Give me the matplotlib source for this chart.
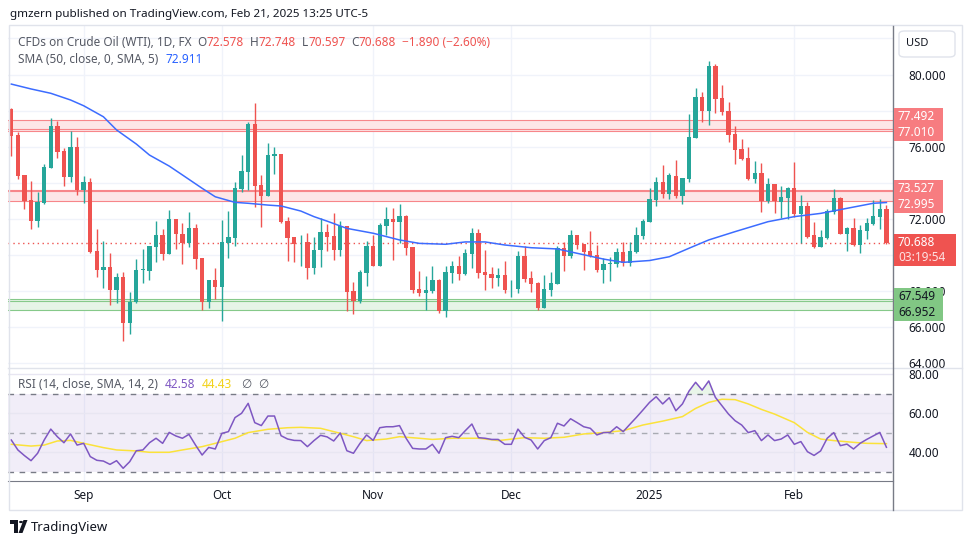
import matplotlib
matplotlib.use("Agg")
import matplotlib.pyplot as plt
from matplotlib.patches import Rectangle, FancyBboxPatch, Polygon, Circle
from matplotlib.lines import Line2D
import numpy as np
import pandas as pd

plt.rcParams['font.family'] = ['Noto Sans', 'DejaVu Sans']

# trading days shown (no bars on Dec 25 and Jan 1)
dates = pd.bdate_range('2024-08-16', '2025-02-21')
dates = dates[~dates.isin(pd.to_datetime(['2024-12-25', '2025-01-01']))]

opens = [78.09, 76.65, 74.44, 73.05, 71.91, 72.90, 74.84, 77.15, 75.76, 74.34,
         75.97, 73.61, 74.03, 70.21, 69.19, 69.34, 68.07, 68.79, 66.26, 67.40,
         69.17, 69.14, 70.47, 71.11, 70.08, 72.00, 71.17, 70.67, 71.50, 69.84,
         67.42, 68.62, 68.25, 70.65, 70.97, 73.66, 74.62, 77.26, 73.86, 73.27,
         75.50, 75.60, 71.89, 71.00, 70.70, 70.70, 69.30, 70.26, 71.26, 71.06,
         70.28, 71.59, 68.00, 67.48, 69.03, 70.50, 69.40, 71.63, 72.00, 71.85,
         72.17, 70.45, 68.11, 67.90, 68.01, 68.62, 66.92, 69.03, 69.40, 68.95,
         70.08, 71.22, 69.05, 68.95, 68.75, 68.90, 68.16, 68.14, 69.95, 68.73,
         68.46, 67.09, 68.09, 68.42, 70.39, 69.95, 71.11, 70.62, 70.23, 70.01,
         69.18, 69.51, 69.51, 70.17, 69.58, 70.17, 71.08, 71.83, 73.05, 74.05,
         73.40, 74.38, 73.27, 74.23, 76.50, 78.75, 77.98, 80.47, 78.70, 77.98,
         76.71, 75.88, 75.38, 74.23, 74.55, 73.01, 73.94, 72.96, 73.18, 73.72,
         72.29, 72.72, 71.11, 70.47, 70.95, 72.38, 73.16, 71.17, 71.50, 70.58,
         71.35, 71.74, 72.13, 72.578]
highs = [78.15, 76.80, 74.44, 74.10, 73.49, 75.04, 77.59, 77.44, 75.91, 76.85,
         76.54, 74.38, 74.25, 71.45, 70.78, 70.10, 68.99, 69.05, 67.96, 69.78,
         70.34, 70.50, 71.89, 71.45, 72.50, 72.00, 71.76, 72.39, 71.70, 69.84,
         68.62, 69.29, 71.94, 72.44, 74.07, 75.54, 77.35, 78.40, 74.42, 76.21,
         75.99, 75.60, 72.09, 71.00, 71.11, 71.20, 71.00, 72.04, 71.72, 72.33,
         71.89, 71.63, 68.51, 69.17, 70.78, 71.11, 71.80, 72.66, 72.61, 72.83,
         72.20, 70.45, 69.12, 68.84, 69.40, 68.68, 69.40, 69.67, 69.95, 70.34,
         71.50, 71.45, 70.28, 69.36, 69.29, 69.66, 68.62, 70.23, 70.50, 69.12,
         68.51, 68.90, 69.06, 70.49, 70.71, 71.39, 71.11, 70.62, 71.33, 70.56,
         69.82, 69.90, 70.39, 70.73, 70.73, 71.57, 71.98, 73.70, 74.31, 74.99,
         74.57, 75.27, 74.27, 77.81, 79.25, 79.03, 80.75, 80.58, 79.42, 78.48,
         77.13, 76.43, 76.00, 75.21, 75.10, 74.29, 73.94, 73.83, 73.77, 75.16,
         73.33, 72.96, 71.85, 71.39, 72.55, 73.66, 73.22, 71.54, 72.04, 71.67,
         72.07, 73.03, 73.11, 72.748]
lows = [75.50, 74.19, 72.57, 71.46, 71.58, 72.83, 74.84, 75.40, 73.84, 74.07,
        73.33, 72.90, 70.10, 68.81, 68.20, 67.24, 67.33, 65.26, 65.65, 67.33,
        68.48, 68.62, 69.60, 69.73, 70.08, 70.34, 69.53, 70.47, 69.23, 66.96,
        67.07, 67.57, 66.37, 69.86, 70.52, 73.48, 73.61, 72.68, 71.57, 73.27,
        74.51, 71.79, 69.69, 69.62, 69.40, 68.70, 68.97, 69.36, 70.21, 69.73,
        69.97, 66.90, 66.76, 67.33, 68.29, 69.40, 69.40, 71.11, 69.73, 70.67,
        69.99, 67.90, 67.73, 66.96, 67.88, 66.79, 66.57, 68.47, 68.62, 68.90,
        69.30, 68.75, 68.07, 68.20, 68.29, 67.92, 67.70, 67.92, 68.51, 67.96,
        66.96, 67.09, 67.75, 68.42, 69.14, 69.86, 70.34, 69.17, 69.90, 69.08,
        68.47, 68.57, 69.32, 69.42, 69.40, 70.10, 70.87, 71.83, 72.72, 73.16,
        73.09, 73.18, 72.83, 74.05, 76.50, 77.37, 77.22, 77.85, 77.76, 76.28,
        75.06, 75.27, 74.16, 74.01, 72.41, 72.87, 72.35, 72.04, 72.00, 72.09,
        70.69, 70.93, 70.41, 70.47, 70.89, 72.28, 71.17, 70.23, 70.50, 70.12,
        70.89, 71.69, 71.46, 70.597]
closes = [76.61, 74.40, 73.00, 71.91, 72.96, 74.86, 77.15, 75.73, 74.34, 75.97,
          73.61, 74.03, 70.19, 69.19, 69.32, 68.07, 68.79, 66.26, 67.40, 69.17,
          69.20, 70.50, 71.11, 70.08, 72.00, 71.15, 70.65, 71.48, 69.78, 67.42,
          68.62, 68.25, 70.73, 71.00, 73.71, 74.66, 77.26, 73.84, 73.27, 75.54,
          75.60, 71.85, 70.97, 70.63, 70.73, 69.30, 70.26, 71.26, 71.00, 70.28,
          71.59, 67.96, 67.48, 69.06, 70.50, 69.40, 71.67, 72.00, 71.85, 72.17,
          70.41, 68.07, 67.90, 68.07, 68.62, 66.92, 69.06, 69.40, 68.95, 70.12,
          71.22, 69.03, 68.90, 68.75, 68.90, 68.07, 68.18, 69.95, 68.70, 68.42,
          67.09, 68.12, 68.46, 70.39, 69.95, 71.11, 70.58, 70.17, 69.95, 69.18,
          69.51, 69.58, 70.17, 69.58, 70.23, 71.11, 71.89, 73.11, 74.05, 73.40,
          74.42, 73.27, 74.27, 76.54, 78.75, 77.99, 80.47, 78.66, 77.94, 76.67,
          75.82, 75.34, 74.23, 74.55, 73.01, 73.94, 72.99, 73.22, 73.72, 72.29,
          72.74, 71.02, 70.47, 71.00, 72.46, 73.16, 71.17, 71.50, 70.56, 71.39,
          71.78, 72.17, 72.55, 70.688]

# SMA 50 at these bars
sma_idx = [0, 3, 6, 9, 11, 14, 16, 19, 21, 24, 26, 29, 31, 34, 36, 39, 41, 44,
           46, 48, 51, 55, 59, 62, 66, 69, 72, 75, 79, 83, 86, 90, 93, 97, 100,
           103, 106, 110, 115, 119, 123, 127, 131, 133]
sma_vals = [79.47, 79.20, 78.96, 78.59, 78.27, 77.66, 76.93, 76.15, 75.54, 74.93,
            74.44, 73.70, 73.23, 72.92, 72.87, 72.77, 72.72, 72.44, 72.13, 71.88,
            71.48, 71.21, 70.84, 70.65, 70.60, 70.73, 70.73, 70.56, 70.41, 70.34,
            70.10, 69.78, 69.60, 69.70, 69.91, 70.38, 70.84, 71.30, 71.85, 72.13,
            72.31, 72.59, 72.87, 72.911]

rsi = [46.3, 41.2, 38.3, 35.7, 39.5, 46.3, 51.9, 48.0, 44.9, 49.4,
       43.7, 44.6, 37.8, 35.9, 35.5, 33.8, 35.7, 31.8, 35.2, 40.8,
       41.2, 44.9, 47.2, 44.6, 50.2, 48.4, 47.2, 49.2, 43.7, 38.6,
       42.5, 41.7, 49.7, 50.6, 57.8, 60.0, 65.1, 55.2, 53.7, 58.6,
       58.6, 48.5, 46.8, 46.1, 46.0, 42.9, 46.0, 48.7, 47.9, 45.8,
       49.9, 40.8, 39.5, 44.6, 48.9, 46.1, 52.6, 53.1, 53.1, 53.7,
       47.2, 42.0, 41.7, 41.7, 44.1, 39.5, 47.5, 48.2, 47.5, 51.1,
       54.5, 47.5, 47.2, 46.6, 46.6, 44.1, 44.1, 51.9, 47.7, 46.3,
       41.7, 46.0, 47.5, 54.9, 53.5, 57.2, 55.2, 53.1, 52.3, 48.9,
       50.1, 50.2, 53.1, 50.6, 54.3, 57.9, 61.7, 65.6, 68.5, 64.8,
       68.0, 61.3, 64.8, 71.4, 75.9, 71.9, 76.6, 68.2, 63.9, 59.6,
       56.2, 54.0, 50.1, 51.1, 46.0, 48.9, 46.0, 46.8, 48.9, 44.1,
       45.5, 40.3, 38.4, 40.7, 47.2, 50.1, 43.4, 44.2, 41.7, 44.6,
       46.6, 48.4, 50.2, 42.58]

rsi_ma_idx = [0, 3, 5, 7, 9, 11, 14, 16, 19, 21, 24, 26, 29, 31, 34, 36, 39, 42,
              44, 47, 49, 52, 54, 57, 59, 62, 64, 67, 71, 74, 78, 81, 84, 87, 90,
              93, 96, 99, 102, 104, 106, 108, 110, 112, 114, 116, 119, 121, 123,
              125, 128, 130, 133]
rsi_ma_vals = [44.1, 43.2, 43.7, 45.8, 46.1, 44.6, 42.4, 41.2, 40.7, 40.0, 40.0,
               41.2, 42.9, 44.6, 47.2, 50.1, 51.8, 52.6, 52.8, 52.3, 50.6, 48.0,
               46.0, 46.8, 48.0, 47.2, 46.6, 47.2, 47.2, 46.0, 47.5, 47.2, 47.7,
               49.4, 50.1, 51.1, 54.0, 56.0, 58.3, 62.5, 65.6, 67.2, 67.0, 64.8,
               62.0, 59.6, 55.2, 50.2, 46.8, 46.0, 45.1, 44.6, 44.43]

# horizontal zones: (low, high, extra line, colour)
zones = [(76.89, 77.492, 77.010, 'red'),
         (72.995, 73.63, 73.527, 'red'),
         (66.952, 67.58, 67.45, 'green')]
tags = [((77.492, 77.010), '#f77c80', 'white'),
        ((73.527, 72.995), '#f77c80', 'white'),
        ((67.549, 66.952), '#81c784', '#131722')]
price_ticks = [64, 66, 68, 72, 76, 80]   # 70, 74, 78 sit under the tags

UP, DN = '#26a69a', '#ef5350'
GRID = '#f0f3fa'
TXT = '#131722'
W, H = 970, 545

fig = plt.figure(figsize=(W / 100, H / 100), dpi=100)
fig.patch.set_facecolor('white')


def rect(x0, y0, x1, y1):
    return [x0 / W, 1 - y1 / H, (x1 - x0) / W, (y1 - y0) / H]


def fx(x):
    return x / W


def fy(y):
    return 1 - y / H


ax = fig.add_axes(rect(8, 26, 893, 368))
axr = fig.add_axes(rect(8, 368, 893, 481), sharex=ax)

x = np.arange(len(dates))
o, h, l, c = (np.array(a) for a in (opens, highs, lows, closes))
col = np.where(c >= o, UP, DN)

# month starts for ticks / grid
month_pos, month_lab = [], []
for i in range(1, len(dates)):
    if dates[i].month != dates[i - 1].month:
        month_pos.append(i)
        month_lab.append('2025' if dates[i].month == 1 else dates[i].strftime('%b'))

for a in (ax, axr):
    for p in month_pos:
        a.axvline(p, color=GRID, lw=1, zorder=0)
for v in range(64, 83, 2):
    ax.axhline(v, color=GRID, lw=1, zorder=0)

# zones
for lo, hi, mid, kind in zones:
    edge = '#f7868a' if kind == 'red' else '#86c98a'
    face = '#fde6e7' if kind == 'red' else '#e6f4e7'
    ax.axhspan(lo, hi, color=face, zorder=1, lw=0)
    for v in (lo, hi, mid):
        ax.axhline(v, color=edge, lw=0.8, zorder=1.5)

# candles
ax.vlines(x, l, h, colors=col, lw=1, zorder=3)
body_lo = np.minimum(o, c)
body_h = np.maximum(np.abs(c - o), 0.04)
ax.bar(x, body_h, bottom=body_lo, width=0.66, color=col, lw=0, zorder=4)

ax.plot(sma_idx, sma_vals, color='#3c6cff', lw=1.1, zorder=5)
ax.axhline(closes[-1], color=DN, lw=1, ls=(0, (1, 2.5)), zorder=2)

ax.set_xlim(-0.5, 134.0)
ax.set_ylim(63.749, 82.686)
ax.yaxis.tick_right()
ax.set_yticks(price_ticks)
ax.set_yticklabels([f'{v:.3f}' for v in price_ticks])
ax.tick_params(axis='y', length=0, pad=11, labelsize=8.5, labelcolor=TXT)
ax.tick_params(axis='x', length=0, labelbottom=False)

# RSI panel
axr.fill_between([-0.5, 134.0], 30, 70, color='#7e57c2', alpha=0.1, lw=0, zorder=0)
for v in (40, 60, 80):
    axr.axhline(v, color='#e8e6f2', lw=1, zorder=0.5)
axr.axhline(70, color='#787b86', lw=1, ls=(0, (4, 4)), zorder=1)
axr.axhline(30, color='#787b86', lw=1, ls=(0, (4, 4)), zorder=1)
axr.axhline(50, color='#a9abb3', lw=1, ls=(0, (4, 4)), zorder=1)
rsi_a = np.array(rsi)
axr.fill_between(x, 70, rsi_a, where=rsi_a > 70, interpolate=True,
                 color='#4caf50', alpha=0.12, lw=0)
axr.plot(rsi_ma_idx, rsi_ma_vals, color='#fbe23a', lw=1.1, zorder=3)
axr.plot(x, rsi, color='#7e57c2', lw=1.1, zorder=4)
axr.set_ylim(25.28, 83.23)
axr.yaxis.tick_right()
axr.set_yticks([40, 60, 80])
axr.set_yticklabels(['40.00', '60.00', '80.00'])
axr.tick_params(axis='y', length=0, pad=11, labelsize=8.5, labelcolor=TXT)
axr.set_xticks(month_pos)
axr.set_xticklabels(month_lab)
axr.tick_params(axis='x', length=0, pad=6, labelsize=8.5, labelcolor=TXT)
for t in axr.get_xticklabels():
    if t.get_text() == '2025':
        t.set_fontweight('bold')

for a in (ax, axr):
    for s in a.spines.values():
        s.set_visible(False)
axr.spines['bottom'].set_visible(True)
axr.spines['bottom'].set_color('#787b86')

# frame and separators
fig.add_artist(Rectangle((fx(9), fy(510)), (962 - 9) / W, (510 - 25) / H,
                         transform=fig.transFigure, fill=False, ec='#e0e3eb', lw=1))
fig.add_artist(Line2D([fx(8), fx(962)], [fy(368), fy(368)], color='#e0e3eb', lw=1))
fig.add_artist(Line2D([fx(893), fx(893)], [fy(26), fy(510)], color='#787b86', lw=1))

# price tags on the right axis
def data_to_py(v):
    return H - ax.transData.transform((0, v))[1]


for (v1, v2), fc, tc in tags:
    yc = (data_to_py(v1) + data_to_py(v2)) / 2
    fig.add_artist(Rectangle((fx(894), fy(yc + 16.5)), 49 / W, 33 / H,
                             transform=fig.transFigure, fc=fc, ec='none', zorder=5))
    fig.text(fx(898), fy(yc - 8), f'{v1:.3f}', color=tc, fontsize=8.5,
             fontweight='bold', va='center', zorder=6)
    fig.text(fx(898), fy(yc + 8), f'{v2:.3f}', color=tc, fontsize=8.5,
             fontweight='bold', va='center', zorder=6)

yc = data_to_py(closes[-1])
fig.add_artist(Rectangle((fx(894), fy(yc + 23)), 62 / W, 32 / H,
                         transform=fig.transFigure, fc=DN, ec='none', zorder=5))
fig.text(fx(898), fy(yc), f'{closes[-1]:.3f}', color='white', fontsize=8.5,
         fontweight='bold', va='center', zorder=6)
fig.text(fx(898), fy(yc + 15), '03:19:54', color='#fde2e3', fontsize=8.5,
         va='center', zorder=6)

fig.add_artist(FancyBboxPatch((fx(899), fy(57)), 56 / W, 26 / H,
                              boxstyle='round,pad=0,rounding_size=0.006',
                              transform=fig.transFigure, fc='white',
                              ec='#e0e3eb', lw=1, zorder=5))
fig.text(fx(906), fy(44), 'USD', color=TXT, fontsize=8, va='center', zorder=6)

# header and legends
renderer = fig.canvas.get_renderer()


def seq_text(x0, y, parts, size=8.5):
    for s, colr, gap in parts:
        t = fig.text(fx(x0), fy(y), s, color=colr, fontsize=size, va='center', zorder=6)
        x0 += t.get_window_extent(renderer=renderer).width + gap


fig.text(fx(10), fy(14), 'gmzern published on TradingView.com, Feb 21, 2025 13:25 UTC-5',
         color=TXT, fontsize=8.4, va='center')
GR = '#555964'
RED = '#ef5350'
seq_text(18, 42, [('CFDs on Crude Oil (WTI), 1D, FX', GR, 6),
                  ('O', GR, 0), ('72.578', RED, 6),
                  ('H', GR, 0), ('72.748', RED, 6),
                  ('L', GR, 0), ('70.597', RED, 6),
                  ('C', GR, 0), ('70.688', RED, 6),
                  ('\u22121.890 (\u22122.60%)', RED, 0)])
seq_text(18, 59, [('SMA (50, close, 0, SMA, 5)', GR, 7), ('72.911', '#2962ff', 0)])
seq_text(18, 385, [('RSI (14, close, SMA, 14, 2)', GR, 7), ('42.58', '#7e57c2', 6),
                   ('44.43', '#f2d21b', 9), ('\u2205', GR, 7), ('\u2205', GR, 0)])

# footer logo
fig.add_artist(Polygon([(fx(10), fy(520)), (fx(18), fy(520)), (fx(18), fy(533)),
                        (fx(14.5), fy(533)), (fx(14.5), fy(524)), (fx(10), fy(524))],
                       closed=True, transform=fig.transFigure, fc=TXT, ec='none'))
fig.add_artist(Circle((fx(21), fy(522)), 2 / W, transform=fig.transFigure,
                      fc=TXT, ec='none'))
fig.add_artist(Polygon([(fx(23.5), fy(520)), (fx(27.5), fy(520)), (fx(22.5), fy(533)),
                        (fx(18.5), fy(533))],
                       closed=True, transform=fig.transFigure, fc=TXT, ec='none'))
fig.text(fx(31), fy(527), 'TradingView', color=TXT, fontsize=9.5, va='center')

fig.savefig('out.png', dpi=100)
